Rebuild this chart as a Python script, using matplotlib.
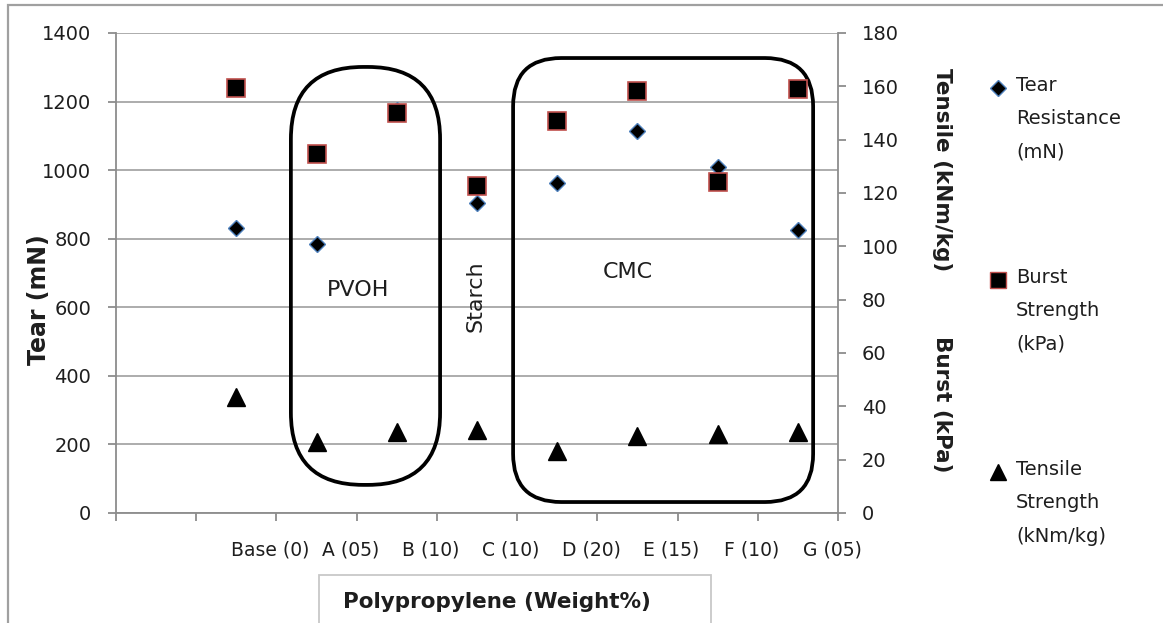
import numpy as np
import matplotlib
matplotlib.use('Agg')
import matplotlib.pyplot as plt
from matplotlib.patches import FancyBboxPatch, Rectangle
from matplotlib.lines import Line2D
from matplotlib.transforms import ScaledTranslation

plt.rcParams['font.family'] = ['DejaVu Sans']

# data
categories = ['Base (0)', 'A (05)', 'B (10)', 'C (10)', 'D (20)', 'E (15)', 'F (10)', 'G (05)']
tear = [832, 786, 1176, 905, 963, 1115, 1008, 826]          # mN, left axis
burst = [159.3, 134.6, 150.1, 122.7, 147.1, 158.4, 124.0, 158.9]   # kPa, right axis
tensile = [43.5, 26.5, 30.3, 31.3, 23.4, 29.0, 29.6, 30.3]       # kNm/kg, right axis

left_ticks = list(range(0, 1401, 200))
right_ticks = list(range(0, 181, 20))

W, H = 1163, 623
fig = plt.figure(figsize=(W / 100, H / 100), dpi=100)
fig.patch.set_facecolor('white')

ax = fig.add_axes([116 / W, 1 - 513 / H, (838 - 116) / W, (513 - 33) / H])
ax2 = ax.twinx()

gray = '#8c8c8c'
txt = '#1e1e1e'

# slots: two empty slots at the start, points sit between tick marks
xpos = np.arange(len(categories)) + 1.5
ax.set_xlim(0, len(categories) + 1)
ax.set_ylim(0, 1400)
ax2.set_ylim(0, 180)
ax.set_yticks(left_ticks)
ax2.set_yticks(right_ticks)
ax.set_xticks(range(len(categories) + 2))
ax.set_xticklabels(['', ''] + categories)

ax.yaxis.grid(True, color='#a6a6a6', lw=1.3)
ax.set_axisbelow(True)

for a in (ax, ax2):
    a.spines['top'].set_visible(False)
    for s in ('left', 'right', 'bottom'):
        a.spines[s].set_color(gray)
        a.spines[s].set_linewidth(1.3)
ax.spines['right'].set_visible(False)
ax2.spines['left'].set_visible(False)
ax2.spines['bottom'].set_visible(False)

ax.tick_params(axis='y', direction='out', length=6, width=1.3, color=gray,
               pad=12, labelsize=14, labelcolor=txt)
ax.tick_params(axis='x', direction='out', length=6, width=1.3, color=gray,
               pad=14, labelsize=13.5, labelcolor=txt)
ax2.tick_params(axis='y', direction='out', length=6, width=1.3, color=gray,
                pad=11, labelsize=14, labelcolor=txt)

off = ScaledTranslation(-6 / 100, 0, fig.dpi_scale_trans)
for lbl in ax.get_xticklabels():
    lbl.set_transform(lbl.get_transform() + off)

# group outlines (rounded boxes)
asp = (722 / 9) / (480 / 1400)
pvoh = FancyBboxPatch((2.18, 82), 4.04 - 2.18, 1301 - 82,
                      boxstyle='round,pad=0,rounding_size=0.9', mutation_aspect=asp,
                      fill=False, ec='black', lw=2.7, zorder=3)
cmc = FancyBboxPatch((4.95, 32), 8.69 - 4.95, 1327 - 32,
                     boxstyle='round,pad=0,rounding_size=0.6', mutation_aspect=asp,
                     fill=False, ec='black', lw=2.7, zorder=3)
ax.add_patch(pvoh)
ax.add_patch(cmc)

ax.text(3.02, 650, 'PVOH', fontsize=16, color=txt, ha='center', va='center')
ax.text(4.48, 633, 'Starch', fontsize=16, color=txt, ha='center', va='center', rotation=90)
ax.text(6.38, 703, 'CMC', fontsize=16, color=txt, ha='center', va='center')

ax.plot(xpos, tear, ls='none', marker='D', ms=8, mfc='black', mec='#4f81bd', mew=1, zorder=4)
ax2.plot(xpos, burst, ls='none', marker='s', ms=12.5, mfc='black', mec='#c0504d', mew=1.2, zorder=4)
ax2.plot(xpos, tensile, ls='none', marker='^', ms=13, mfc='black', mec='black', mew=1, zorder=4)

# axis titles
fig.text(39 / W, 1 - 300 / H, 'Tear (mN)', rotation=90, fontsize=17, fontweight='bold',
         color=txt, ha='center', va='center')
fig.text(942 / W, 1 - 170 / H, 'Tensile (kNm/kg)', rotation=-90, fontsize=15.5,
         fontweight='bold', color=txt, ha='center', va='center')
fig.text(942 / W, 1 - 404 / H, 'Burst (kPa)', rotation=-90, fontsize=15.5,
         fontweight='bold', color=txt, ha='center', va='center')

# x title in its own box
fig.add_artist(Rectangle((319 / W, -0.1), 392 / W, 0.1 + 1 - 575 / H, transform=fig.transFigure,
                         fill=False, ec='#c8c8c8', lw=1.3))
fig.text(497 / W, 1 - 602 / H, 'Polypropylene (Weight%)', fontsize=15.5, fontweight='bold',
         color=txt, ha='center', va='center')

# outer frame
fig.add_artist(Rectangle((8 / W, -0.1), 1.2, 0.1 + 1 - 5 / H, transform=fig.transFigure,
                         fill=False, ec='#a0a0a0', lw=1.6))

# legend, drawn by hand to keep the marker beside the first line
legend_items = [
    ('D', 8, '#4f81bd', 'Tear\nResistance\n(mN)', 88),
    ('s', 12, '#c0504d', 'Burst\nStrength\n(kPa)', 280),
    ('^', 12, 'black', 'Tensile\nStrength\n(kNm/kg)', 472),
]
for mk, ms, ec, label, ypix in legend_items:
    fig.add_artist(Line2D([998 / W], [1 - ypix / H], transform=fig.transFigure, ls='none',
                          marker=mk, ms=ms, mfc='black', mec=ec, mew=1))
    fig.text(1016 / W, 1 - (ypix - 12) / H, label, fontsize=14, color=txt,
             ha='left', va='top', linespacing=1.95)

fig.savefig('out.png', dpi=100)
